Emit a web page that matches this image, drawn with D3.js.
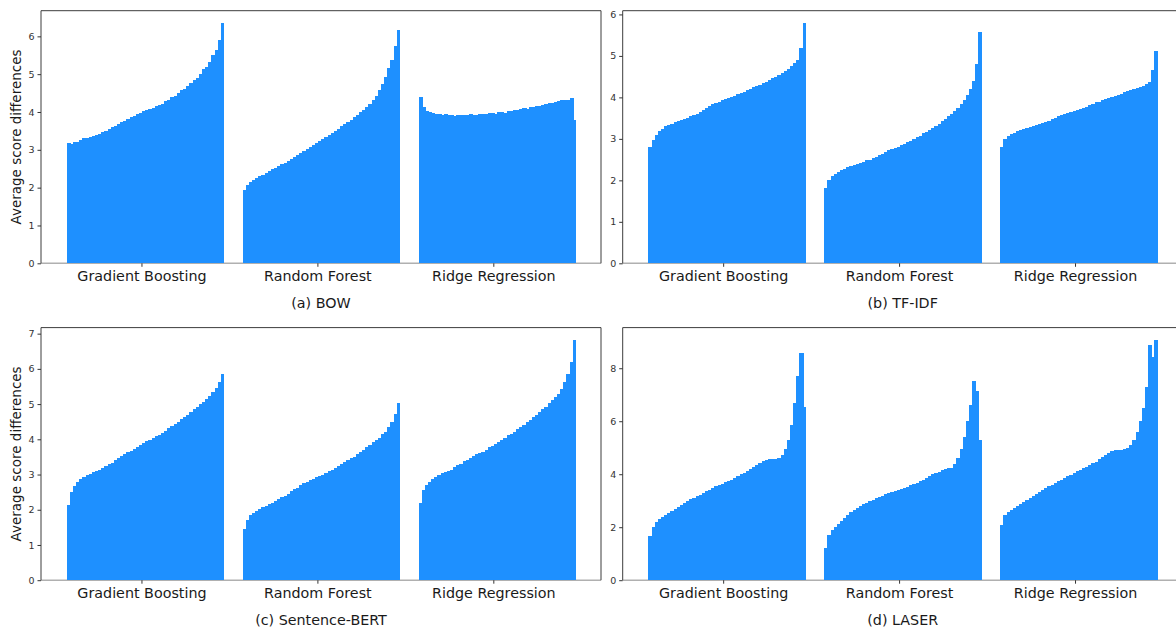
<!DOCTYPE html>
<html>
<head>
<meta charset="utf-8">
<script src="https://cdn.jsdelivr.net/npm/d3@7"></script>
<style>
  body { margin: 0; background: #fff; }
  text { font-family: "DejaVu Sans", sans-serif; }
</style>
</head>
<body>
<svg id="chart"></svg>
<script>
// categories and panel names
const categories = ["Gradient Boosting", "Random Forest", "Ridge Regression"];
const panelTitles = ["(a) BOW", "(b) TF-IDF", "(c) Sentence-BERT", "(d) LASER"];
const yLabel = "Average score differences";

// sorted average score differences (50 per model)
const bowGB = [3.17,3.16,3.2,3.22,3.27,3.3,3.32,3.35,3.37,3.4,3.43,3.47,3.51,3.55,3.6,3.64,3.68,3.73,3.76,3.81,
  3.86,3.9,3.94,3.98,4.02,4.05,4.08,4.11,4.15,4.19,4.22,4.28,4.33,4.39,4.43,4.5,4.57,4.62,4.68,4.77,
  4.85,4.91,5.01,5.13,5.2,5.33,5.5,5.64,5.9,6.36];
const bowRF = [1.95,2.08,2.15,2.2,2.25,2.3,2.34,2.39,2.43,2.48,2.53,2.57,2.62,2.66,2.71,2.76,2.81,2.86,2.91,2.96,
  3.02,3.07,3.12,3.18,3.23,3.28,3.33,3.38,3.44,3.5,3.56,3.62,3.68,3.74,3.8,3.87,3.93,3.99,4.06,4.14,
  4.22,4.32,4.43,4.58,4.75,4.92,5.15,5.38,5.75,6.16];
const bowRR = [4.4,4.12,4.02,3.99,3.97,3.95,3.96,3.93,3.94,3.92,3.93,3.9,3.92,3.93,3.91,3.92,3.94,3.92,3.93,3.95,
  3.96,3.94,3.97,3.98,3.96,3.99,4.0,3.98,4.02,4.03,4.05,4.04,4.07,4.1,4.08,4.12,4.14,4.16,4.15,4.19,
  4.21,4.23,4.25,4.27,4.3,4.32,4.33,4.31,4.37,3.8];

const tfidfGB = [2.8,2.98,3.1,3.18,3.24,3.3,3.33,3.36,3.4,3.43,3.46,3.48,3.51,3.54,3.57,3.6,3.64,3.69,3.75,3.8,
  3.83,3.86,3.9,3.93,3.95,3.98,4.01,4.04,4.07,4.1,4.13,4.17,4.2,4.24,4.27,4.3,4.34,4.38,4.42,4.46,
  4.5,4.55,4.59,4.64,4.69,4.75,4.82,4.9,5.2,5.8];
const tfidfRF = [1.82,2.0,2.1,2.16,2.2,2.24,2.27,2.31,2.34,2.37,2.4,2.42,2.45,2.48,2.5,2.53,2.57,2.6,2.64,2.68,
  2.72,2.75,2.78,2.81,2.85,2.88,2.92,2.96,3.0,3.04,3.08,3.13,3.17,3.22,3.27,3.32,3.37,3.42,3.48,3.54,
  3.6,3.67,3.75,3.84,3.94,4.05,4.2,4.4,4.8,5.57];
const tfidfRR = [2.8,3.0,3.08,3.12,3.15,3.18,3.21,3.23,3.26,3.29,3.31,3.33,3.36,3.39,3.41,3.44,3.47,3.5,3.54,3.57,
  3.6,3.62,3.65,3.67,3.7,3.72,3.75,3.78,3.81,3.85,3.88,3.9,3.93,3.95,3.98,4.0,4.03,4.06,4.09,4.13,
  4.16,4.18,4.2,4.23,4.25,4.28,4.32,4.38,4.65,5.12];

const sbertGB = [2.14,2.5,2.68,2.78,2.86,2.93,2.98,3.02,3.06,3.1,3.13,3.18,3.24,3.29,3.34,3.4,3.46,3.52,3.58,3.64,
  3.68,3.73,3.79,3.84,3.9,3.95,3.99,4.04,4.08,4.13,4.18,4.24,4.31,4.38,4.44,4.5,4.57,4.63,4.7,4.77,
  4.85,4.92,5.0,5.07,5.14,5.22,5.33,5.47,5.62,5.85];
const sbertRF = [1.46,1.72,1.85,1.92,1.97,2.03,2.07,2.12,2.16,2.2,2.25,2.3,2.35,2.4,2.46,2.52,2.58,2.63,2.69,2.75,
  2.8,2.84,2.88,2.92,2.96,2.99,3.04,3.09,3.14,3.18,3.23,3.29,3.35,3.41,3.46,3.51,3.57,3.64,3.7,3.77,
  3.84,3.91,3.98,4.05,4.14,4.22,4.35,4.5,4.72,5.02];
const sbertRR = [2.19,2.55,2.7,2.8,2.87,2.94,2.99,3.04,3.08,3.11,3.14,3.2,3.26,3.31,3.37,3.42,3.47,3.52,3.57,3.61,
  3.65,3.71,3.77,3.82,3.88,3.93,3.99,4.05,4.11,4.16,4.22,4.28,4.35,4.42,4.48,4.55,4.62,4.7,4.77,4.85,
  4.93,5.02,5.11,5.2,5.3,5.42,5.62,5.85,6.2,6.83];

const laserGB = [1.66,2.0,2.2,2.3,2.38,2.47,2.55,2.63,2.7,2.78,2.85,2.92,2.98,3.05,3.11,3.17,3.23,3.3,3.36,3.42,
  3.49,3.54,3.59,3.64,3.69,3.74,3.79,3.86,3.92,3.99,4.06,4.13,4.2,4.28,4.35,4.43,4.49,4.55,4.57,4.57,
  4.58,4.62,4.72,4.95,5.3,5.85,6.7,7.7,8.57,6.52];
const laserRF = [1.22,1.7,1.9,2.02,2.12,2.22,2.33,2.45,2.56,2.65,2.73,2.8,2.87,2.93,2.99,3.04,3.09,3.14,3.19,3.24,
  3.29,3.33,3.36,3.4,3.44,3.48,3.53,3.58,3.63,3.68,3.74,3.8,3.87,3.93,3.99,4.05,4.1,4.15,4.19,4.22,
  4.24,4.4,4.6,4.95,5.4,6.0,6.6,7.5,7.15,5.3];
const laserRR = [2.1,2.45,2.58,2.65,2.72,2.79,2.87,2.95,3.02,3.1,3.17,3.25,3.32,3.4,3.47,3.54,3.6,3.67,3.73,3.8,
  3.86,3.92,3.98,4.05,4.11,4.17,4.23,4.29,4.36,4.42,4.48,4.56,4.64,4.72,4.8,4.87,4.9,4.92,4.93,4.96,
  5.0,5.12,5.3,5.6,6.0,6.5,7.3,8.88,8.44,9.08];

// y tick labels per panel
const bowTicks = [0,1,2,3,4,5,6];
const tfidfTicks = [0,1,2,3,4,5,6];
const sbertTicks = [0,1,2,3,4,5,6,7];
const laserTicks = [0,2,4,6,8];

const width = 1176, height = 629;
const W = 560, H = 252.6;
const barColor = "#1e90ff";

const svg = d3.select("#chart")
  .attr("width", width)
  .attr("height", height);

const panels = [
  { title: panelTitles[0], series: [bowGB, bowRF, bowRR], ticks: bowTicks, left: 41, top: 10.7, ylabel: true },
  { title: panelTitles[1], series: [tfidfGB, tfidfRF, tfidfRR], ticks: tfidfTicks, left: 622.7, top: 10.7, ylabel: false },
  { title: panelTitles[2], series: [sbertGB, sbertRF, sbertRR], ticks: sbertTicks, left: 41, top: 327.6, ylabel: true },
  { title: panelTitles[3], series: [laserGB, laserRF, laserRR], ticks: laserTicks, left: 622.7, top: 327.6, ylabel: false }
];

panels.forEach(p => {
  const g = svg.append("g").attr("transform", `translate(${p.left},${p.top})`);

  var x = d3.scaleLinear()
    .domain([-0.571, 2.612])
    .range([0, W]);

  var ymax = d3.max(p.series, s => d3.max(s)) * 1.05;
  var y = d3.scaleLinear()
    .domain([0, ymax])
    .range([H, 0]);

  // bottom spine (light grey in the original)
  g.append("line")
    .attr("x1", 0).attr("x2", W)
    .attr("y1", H).attr("y2", H)
    .attr("stroke", "#b0b0b0")
    .attr("stroke-width", 1.5);

  p.series.forEach((vals, ci) => {
    const band = d3.scaleBand()
      .domain(d3.range(vals.length))
      .range([x(ci - 0.425), x(ci + 0.469)]);
    g.append("g")
      .attr("shape-rendering", "crispEdges")
      .selectAll("rect")
      .data(vals)
      .join("rect")
      .attr("x", (d, i) => band(i))
      .attr("width", (d, i) => i === vals.length - 1 ? band.bandwidth() : band.bandwidth() + 1)
      .attr("y", d => y(d))
      .attr("height", d => H - y(d))
      .attr("fill", barColor);
  });

  // other spines
  const spine = "#3d3d3d";
  g.append("line").attr("x1", 0).attr("x2", 0).attr("y1", 0).attr("y2", H).attr("stroke", spine);
  g.append("line").attr("x1", 0).attr("x2", W).attr("y1", 0).attr("y2", 0).attr("stroke", spine);
  g.append("line").attr("x1", W).attr("x2", W).attr("y1", 0).attr("y2", H).attr("stroke", spine);

  var yAxis = g.append("g")
    .call(d3.axisLeft(y).tickValues(p.ticks).tickSize(3.5).tickPadding(3).tickFormat(d3.format("d")));
  yAxis.select(".domain").remove();
  yAxis.selectAll(".tick line").attr("stroke", "#333");
  yAxis.selectAll("text").attr("fill", "#333").style("font-size", "9.5px");

  var xAxis = g.append("g")
    .attr("transform", `translate(0,${H})`)
    .call(d3.axisBottom(x).tickValues([0, 1, 2]).tickSize(3.5).tickPadding(4).tickFormat(i => categories[i]));
  xAxis.select(".domain").remove();
  xAxis.selectAll(".tick line").attr("stroke", "#333");
  xAxis.selectAll("text").attr("fill", "#1a1a1a").style("font-size", "14.3px");

  svg.append("text")
    .attr("x", p.left + W / 2)
    .attr("y", p.top + H + 44.3)
    .attr("text-anchor", "middle")
    .attr("fill", "#1a1a1a")
    .style("font-size", "14.3px")
    .text(p.title);

  if (p.ylabel) {
    svg.append("text")
      .attr("transform", `translate(21,${p.top + H / 2}) rotate(-90)`)
      .attr("text-anchor", "middle")
      .attr("fill", "#1a1a1a")
      .style("font-size", "13.5px")
      .text(yLabel);
  }
});
</script>
</body>
</html>
